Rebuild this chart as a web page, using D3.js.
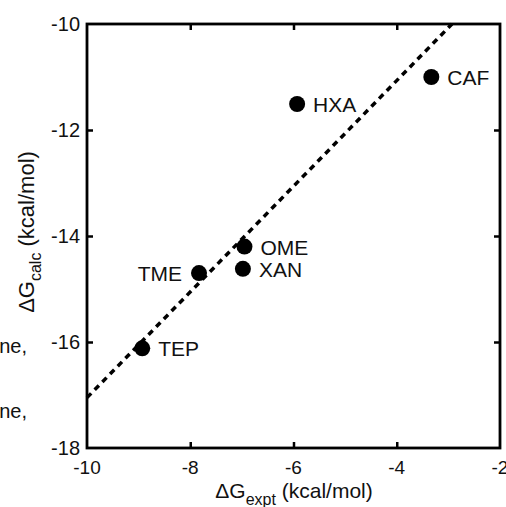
<!DOCTYPE html>
<html>
<head>
<meta charset="utf-8">
<script src="https://cdn.jsdelivr.net/npm/d3@7"></script>
<style>
  body { margin: 0; background: #fff; }
  text { font-family: "Liberation Sans", Arial, sans-serif; fill: #111; }
</style>
</head>
<body>
<svg id="chart" width="506" height="507"></svg>
<script>
// data
const names = ["CAF", "HXA", "OME", "XAN", "TME", "TEP"];
const expt = [-3.33, -5.93, -6.95, -6.98, -7.83, -8.93];
const calc = [-11.0, -11.51, -14.2, -14.62, -14.7, -16.12];
const labelSide = ["right", "right", "right", "right", "left", "right"];
const fitLine = [[-10, -17.05], [-2.93, -10]];
const xTicks = [-10, -8, -6, -4, -2];
const yTicks = [-18, -16, -14, -12, -10];

const svg = d3.select("#chart");
const mLeft = 87, mRight = 500, mTop = 24, mBottom = 448;

const x = d3.scaleLinear().domain([-10, -2]).range([mLeft, mRight]);
const y = d3.scaleLinear().domain([-18, -10]).range([mBottom, mTop]);

// stray text from the page the figure was cut from
svg.append("text").attr("x", 27).attr("y", 353).attr("text-anchor", "end")
    .style("font-size", "20px").text("ne,");
svg.append("text").attr("x", 27).attr("y", 418).attr("text-anchor", "end")
    .style("font-size", "20px").text("ne,");

// frame + inward ticks
const tickLen = 6;
function styleAxis(g){
    g.selectAll(".domain").remove();
    g.selectAll("line").attr("stroke", "#000").attr("stroke-width", 2.5);
}
svg.append("g").attr("transform", `translate(0,${mBottom})`)
    .call(d3.axisBottom(x).tickValues(xTicks.slice(1, -1)).tickSize(-tickLen).tickFormat(""))
    .call(styleAxis);
svg.append("g").attr("transform", `translate(0,${mTop})`)
    .call(d3.axisTop(x).tickValues(xTicks.slice(1, -1)).tickSize(-tickLen).tickFormat(""))
    .call(styleAxis);
svg.append("g").attr("transform", `translate(${mLeft},0)`)
    .call(d3.axisLeft(y).tickValues(yTicks.slice(1, -1)).tickSize(-tickLen).tickFormat(""))
    .call(styleAxis);
svg.append("g").attr("transform", `translate(${mRight},0)`)
    .call(d3.axisRight(y).tickValues(yTicks.slice(1, -1)).tickSize(-tickLen).tickFormat(""))
    .call(styleAxis);

svg.append("rect").attr("x", mLeft).attr("y", mTop)
    .attr("width", mRight - mLeft).attr("height", mBottom - mTop)
    .attr("fill", "none").attr("stroke", "#000").attr("stroke-width", 2.8);

// tick labels
svg.selectAll(".xl").data(xTicks).enter().append("text")
    .attr("x", d => x(d)).attr("y", mBottom + 26)
    .attr("text-anchor", "middle").style("font-size", "19px")
    .text(d => d);
svg.selectAll(".yl").data(yTicks).enter().append("text")
    .attr("x", mLeft - 7).attr("y", d => y(d) + 7)
    .attr("text-anchor", "end").style("font-size", "20px")
    .text(d => d);

// axis titles
const xt = svg.append("text").attr("x", 294).attr("y", 498)
    .attr("text-anchor", "middle").style("font-size", "21px");
xt.append("tspan").text("\u0394G");
xt.append("tspan").attr("dy", 7).style("font-size", "16px").text("expt");
xt.append("tspan").attr("dy", -7).text(" (kcal/mol)");

const yt = svg.append("text").attr("transform", "translate(34,232) rotate(-90)")
    .attr("text-anchor", "middle").style("font-size", "22px");
yt.append("tspan").text("\u0394G");
yt.append("tspan").attr("dy", 7).style("font-size", "16px").text("calc");
yt.append("tspan").attr("dy", -7).text(" (kcal/mol)");

// dashed fit line
svg.append("path").datum(fitLine)
    .attr("d", d3.line().x(d => x(d[0])).y(d => y(d[1])))
    .attr("stroke", "#000").attr("stroke-width", 3.5)
    .attr("stroke-dasharray", "6,5").attr("fill", "none");

// points
svg.selectAll(".pt").data(names).enter().append("circle")
    .attr("cx", (d, i) => x(expt[i])).attr("cy", (d, i) => y(calc[i]))
    .attr("r", 8).attr("fill", "#000");

svg.selectAll(".lbl").data(names).enter().append("text")
    .attr("x", (d, i) => labelSide[i] == "left" ? x(expt[i]) - 17 : x(expt[i]) + 16)
    .attr("y", (d, i) => y(calc[i]) + 8)
    .attr("text-anchor", (d, i) => labelSide[i] == "left" ? "end" : "start")
    .style("font-size", "21px")
    .text(d => d);
</script>
</body>
</html>
